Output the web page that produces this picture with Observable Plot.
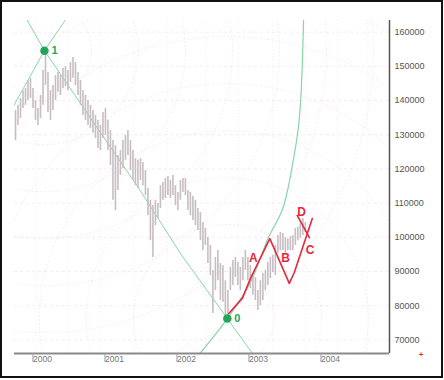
<!DOCTYPE html>
<html>
<head>
<meta charset="utf-8">
<script src="https://cdn.jsdelivr.net/npm/d3@7"></script>
<script src="https://cdn.jsdelivr.net/npm/@observablehq/plot@0.6"></script>
<style>
  html, body { margin: 0; padding: 0; background: #fff; }
  #wrap { position: relative; width: 444px; height: 380px; }
  #border { position: absolute; left: 0; top: 0; width: 443px; height: 378px; box-sizing: border-box; border: 2px solid #111; pointer-events: none; }
</style>
</head>
<body>
<div id="wrap"><div id="border"></div></div>
<script>
// ---- data ----
const yearTicks = [2000, 2001, 2002, 2003, 2004];
const valueTicks = [70000, 80000, 90000, 100000, 110000, 120000, 130000, 140000, 150000, 160000];
const timeGrid = [2000.06, 2000.5, 2000.96, 2001.42, 2001.89, 2002.42, 2002.88, 2003.35, 2003.81, 2004.25, 2004.67];

// price bars (high / low), roughly every 2 weeks from late 1999 to late 2003
const barFirstDate = 1999.778;
const barSpacing = 0.0347;
const barHigh = [137100,138600,140600,142900,143500,145900,146500,143500,140000,137700,
  141500,148800,154100,148200,142900,144400,147300,148200,147300,149400,
  150000,148800,151100,152600,151100,148200,145900,142900,141500,140000,
  138600,137100,135600,134200,132700,136500,137700,134200,131200,128300,
  126800,123900,125400,128300,129800,131200,128300,125400,123000,122500,
  123000,121900,119500,114300,110800,109300,110800,109900,115100,116000,
  117200,117800,116600,118100,115100,113100,116600,117200,117200,113700,
  113100,111900,110800,108400,107200,104300,102600,99900,97600,90300,
  94100,96100,92300,91700,87300,84400,91200,93200,94100,92600,
  91200,94100,96100,94100,91700,89400,88200,84400,87300,89400,
  90300,92600,94100,94700,97600,100500,101400,101100,99900,99600,
  100200,100500,102600,102900,104000,105500,104300];
const barLow = [128300,132700,134700,137700,138600,140000,140600,137700,134200,132700,
  134700,138600,144400,136500,134200,137100,140000,142400,141500,143500,
  144100,142900,145300,146500,144400,141500,138600,135600,134200,132700,
  131800,130400,128900,126000,125400,128900,129800,125400,121000,110800,
  107800,113700,118100,120100,122500,123900,119500,116600,115100,114300,
  116600,115100,112200,106300,99000,94100,103400,105500,108400,110800,
  111300,112200,111300,112200,109300,107800,110800,113100,112200,107800,
  106300,104900,103400,102000,99000,96100,97600,92300,88800,77700,
  84400,87300,81500,80900,76500,76200,84400,85900,88200,85900,
  84400,87300,90300,87300,85000,83000,81500,78600,80000,81500,
  84400,85900,87900,89700,88800,95500,96100,96100,94700,96100,
  96100,96100,97600,99000,99600,100500,101400];

// pivot points
const pivotNames = ["1", "0"];
const pivotDates = [2000.18, 2002.72];
const pivotValues = [154600, 76200];

// green guide lines
const fanDownDates = [1999.90, 2000.18, 2000.89, 2001.51, 2002.07, 2002.72, 2003.12];
const fanDownValues = [165000, 154600, 132700, 113700, 95200, 76200, 64500];
const fanUpDates = [1999.70, 2000.18, 2000.50];
const fanUpValues = [136500, 154600, 164500];
const arcDates = [2002.28, 2002.72, 2003.04, 2003.29, 2003.49, 2003.64, 2003.71, 2003.74, 2003.76, 2003.78];
const arcValues = [64500, 76200, 86800, 99900, 108400, 123000, 132700, 140600, 150000, 164500];

// red wave count
const waveDates = [2002.74, 2002.93, 2003.04, 2003.31, 2003.58, 2003.65, 2003.90];
const waveValues = [77700, 82200, 87900, 99600, 86500, 89700, 105500];
const dLineDates = [2003.69, 2003.86];
const dLineValues = [106400, 99900];
const waveLabels = ["A", "B", "C", "D"];
const waveLabelDates = [2003.08, 2003.53, 2003.87, 2003.75];
const waveLabelValues = [93900, 93900, 96200, 107300];

// ---- build tables ----
const bars = barHigh.map((h, i) => ({date: barFirstDate + i * barSpacing, high: h, low: barLow[i]}));
const pivots = pivotNames.map((n, i) => ({name: n, date: pivotDates[i], value: pivotValues[i]}));
const zip = (xs, ys) => xs.map((x, i) => ({x, y: ys[i]}));
const waveText = waveLabels.map((t, i) => ({t, x: waveLabelDates[i], y: waveLabelValues[i]}));

const xDomain = [1999.764, 2004.972];
const yDomain = [65990, 163420];
const pink = "#f0c4cf";
const green = "#86d6a8";
const red = "#e8283c";
const ringSteps = [1, 2, 3, 4, 5, 6, 7];

const chart = Plot.plot({
  width: 444,
  height: 380,
  marginLeft: 14,
  marginRight: 55,
  marginTop: 20,
  marginBottom: 27,
  x: {domain: xDomain, axis: null},
  y: {domain: yDomain, axis: null},
  style: {fontFamily: "'Liberation Sans', Arial, sans-serif", background: "transparent"},
  marks: [
    Plot.ruleY(valueTicks, {stroke: pink, strokeWidth: 0.6, strokeDasharray: "3,3", strokeOpacity: 0.6}),
    Plot.ruleX(timeGrid, {stroke: pink, strokeWidth: 0.6, strokeDasharray: "1,2", strokeOpacity: 0.55}),
    ...ringSteps.map(k => Plot.dot(pivots, {x: "date", y: "value", r: k * 47, fill: "none", stroke: pink, strokeWidth: 0.6, strokeDasharray: "2,2", strokeOpacity: 0.6, clip: true})),
    Plot.line(zip(fanDownDates, fanDownValues), {x: "x", y: "y", stroke: green, strokeWidth: 1, clip: true}),
    Plot.line(zip(fanUpDates, fanUpValues), {x: "x", y: "y", stroke: green, strokeWidth: 1, clip: true}),
    Plot.line(zip(arcDates, arcValues), {x: "x", y: "y", stroke: green, strokeWidth: 1.2, curve: "catmull-rom", clip: true}),
    Plot.ruleX(bars, {x: "date", y1: "low", y2: "high", stroke: "#c6bec2", strokeWidth: 1.6}),
    Plot.line(zip(waveDates, waveValues), {x: "x", y: "y", stroke: red, strokeWidth: 1.6}),
    Plot.line(zip(dLineDates, dLineValues), {x: "x", y: "y", stroke: red, strokeWidth: 1.6}),
    Plot.text(waveText, {x: "x", y: "y", text: "t", fill: red, fontSize: 12, fontWeight: "bold"}),
    Plot.dot(pivots, {x: "date", y: "value", r: 3.5, fill: "#1fa65a", stroke: "#1fa65a"}),
    Plot.text(pivots, {x: "date", y: "value", text: "name", dx: 10, fill: "#1fa65a", fontSize: 11, fontWeight: "bold"}),
    Plot.ruleY([yDomain[0]], {stroke: "#8a8a8a", strokeWidth: 2}),
    Plot.ruleX([xDomain[1]], {stroke: "#555", strokeWidth: 1.5}),
    Plot.axisY(valueTicks, {anchor: "right", tickSize: 0, tickPadding: 5, fontSize: 9, fill: "#555", tickFormat: d => String(d)}),
    Plot.axisX(yearTicks, {anchor: "bottom", tickSize: 9, tickPadding: -6.5, textAnchor: "start", dx: 1.5, fontSize: 8.5, fill: "#777", stroke: "#999", tickFormat: d => String(d)}),
    Plot.text(["+"], {frameAnchor: "bottom-right", dx: 34, dy: 3, fill: red, fontSize: 8, fontWeight: "bold"})
  ]
});
document.getElementById("wrap").prepend(chart);
</script>
</body>
</html>
